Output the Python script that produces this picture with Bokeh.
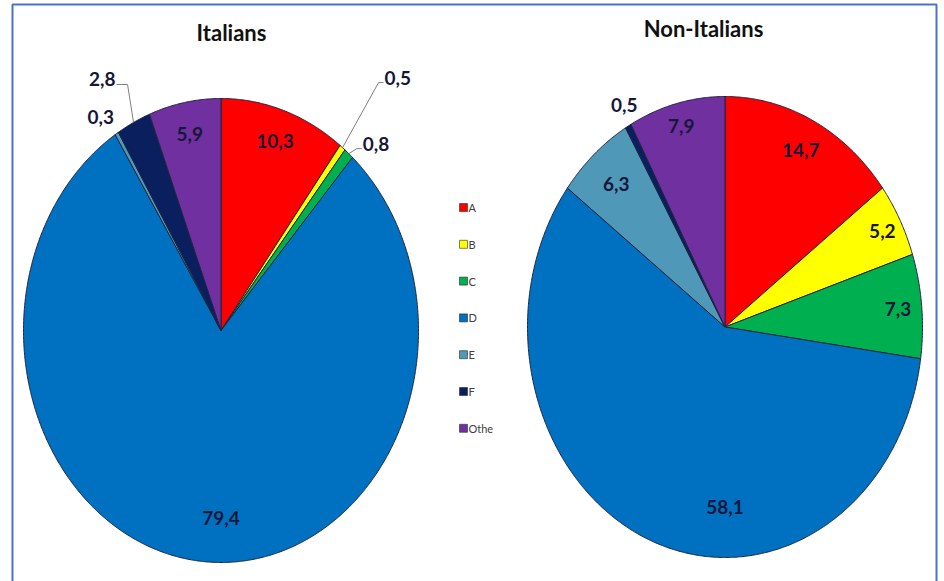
import numpy as np
from bokeh.plotting import figure
from bokeh.models import Range1d, ColumnDataSource
from bokeh.core.properties import value
from bokeh.embed import file_html
from bokeh.resources import INLINE

# ---------------------------------------------------------------- data
categories = ["A", "B", "C", "D", "E", "F", "Othe"]
italians = [10.3, 0.5, 0.8, 79.4, 0.3, 2.8, 5.9]
non_italians = [14.7, 5.2, 7.3, 58.1, 6.3, 0.5, 7.9]
titles = ["Italians", "Non-Italians"]
slice_colors = ["#FF0000", "#FFFF00", "#00B050", "#0070C0",
                "#4F98B8", "#0A1F5E", "#7030A0"]

# ------------------------------------------------------------ layout
# Page-pixel coordinates (y grows downward). Each pie is an ellipse.
# Label spec per slice:
#   ("in", radial_factor, angle_override)             -> label inside slice
#   ("out", dx, dy, align, elbow)                      -> label near the rim,
#       offset from the rim point at the slice mid-angle; elbow>0 draws a leader
pies = [
    dict(values=italians, title=titles[0], cx=220.5, cy=330.0, rx=197.5, ry=232.0,
         title_xy=(231, 32),
         labels=[("in", 0.86, None),
                 ("out", 41, -65, "left", 5),
                 ("out", 13, -5, "left", 5),
                 ("in", 0.81, 180.0),
                 ("out", -16, -16, "center", 0),
                 ("out", -17, -38, "right", 11),
                 ("in", 0.86, None)]),
    dict(values=non_italians, title=titles[1], cx=724.5, cy=326.5, rx=197.5, ry=230.5,
         title_xy=(703, 28),
         labels=[("in", 0.86, None),
                 ("in", 0.90, None),
                 ("in", 0.88, None),
                 ("in", 0.78, 180.0),
                 ("in", 0.83, None),
                 ("out", -4, -21, "center", 0),
                 ("in", 0.90, None)]),
]

W, H = 944, 581
BL, BT, BR = 12, 4, 936   # blue frame edges (open at the bottom)

p = figure(width=W, height=H, output_backend="svg", toolbar_location=None,
           x_range=Range1d(0, W), y_range=Range1d(H, 0),
           x_axis_type=None, y_axis_type=None,
           min_border_left=0, min_border_right=0,
           min_border_top=0, min_border_bottom=0)
p.grid.visible = False
p.outline_line_color = None
p.background_fill_color = "white"
p.border_fill_color = "white"

# frame around the chart area
p.line(x=[BL, BL, BR, BR], y=[H + 5, BT, BT, H + 5], line_color="#4A72C8",
       line_width=2)

label_font = value("Lato")
edge_color = "#1E2440"


def rim(cx, cy, rx, ry, deg):
    t = np.radians(deg)
    return cx + rx * np.sin(t), cy - ry * np.cos(t)


for pie in pies:
    vals = pie["values"]
    cx, cy, rx, ry = pie["cx"], pie["cy"], pie["rx"], pie["ry"]
    total = sum(vals)
    starts = np.cumsum([0] + vals[:-1]) / total * 360.0
    ends = np.cumsum(vals) / total * 360.0

    xs, ys = [], []
    for a0, a1 in zip(starts, ends):
        n = max(3, int((a1 - a0) * 3))
        t = np.linspace(a0, a1, n)
        ax, ay = rim(cx, cy, rx, ry, t)
        xs.append(np.concatenate([[cx], ax, [cx]]))
        ys.append(np.concatenate([[cy], ay, [cy]]))
    p.patches(xs=xs, ys=ys, fill_color=slice_colors, line_color=edge_color,
              line_width=1)

    groups = {"center": dict(x=[], y=[], text=[]),
              "left": dict(x=[], y=[], text=[]),
              "right": dict(x=[], y=[], text=[])}
    lead_xs, lead_ys = [], []
    for v, a0, a1, spec in zip(vals, starts, ends, pie["labels"]):
        txt = f"{v:.1f}".replace(".", ",")
        mid = (a0 + a1) / 2
        if spec[0] == "in":
            f, ang = spec[1], spec[2]
            lx, ly = rim(cx, cy, rx * f, ry * f, mid if ang is None else ang)
            g = groups["center"]
            g["x"].append(lx); g["y"].append(ly); g["text"].append(txt)
        else:
            _, dx, dy, align, elbow = spec
            ex, ey = rim(cx, cy, rx, ry, mid)
            axp, ayp = ex + dx, ey + dy
            g = groups[align]
            if elbow:
                sgn = 1 if align == "left" else -1
                lead_xs.append([ex, axp - sgn * elbow, axp])
                lead_ys.append([ey, ayp, ayp])
                g["x"].append(axp + sgn * 1); g["y"].append(ayp - 5)
            else:
                g["x"].append(axp); g["y"].append(ayp)
            g["text"].append(txt)

    if lead_xs:
        p.multi_line(xs=lead_xs, ys=lead_ys, line_color="#7F7F7F", line_width=1)
    for align, g in groups.items():
        if g["text"]:
            p.text(x="x", y="y", text="text", source=ColumnDataSource(g),
                   text_align=align, text_baseline="middle",
                   text_font=label_font, text_font_style="bold",
                   text_font_size="19px", text_color="#16173A")

    tx, ty = pie["title_xy"]
    p.text(x=[tx], y=[ty], text=[pie["title"]], text_align="center",
           text_baseline="middle", text_font=label_font, text_font_style="bold",
           text_font_size="22px", text_color="#111111")

# ------------------------------------------------------------ legend
leg_x, leg_y0, leg_step = 463.0, 207.0, 36.8
leg_y = [leg_y0 + i * leg_step for i in range(len(categories))]
p.scatter(x=[leg_x] * len(categories), y=leg_y, marker="square", size=8,
          fill_color=slice_colors, line_color="#2A2A2A", line_width=0.6)
p.text(x=[leg_x + 5] * len(categories), y=leg_y, text=categories,
       text_align="left", text_baseline="middle", text_font=label_font,
       text_font_size="11px", text_color="#404040")

open("out.html", "w").write(file_html(p, INLINE))
